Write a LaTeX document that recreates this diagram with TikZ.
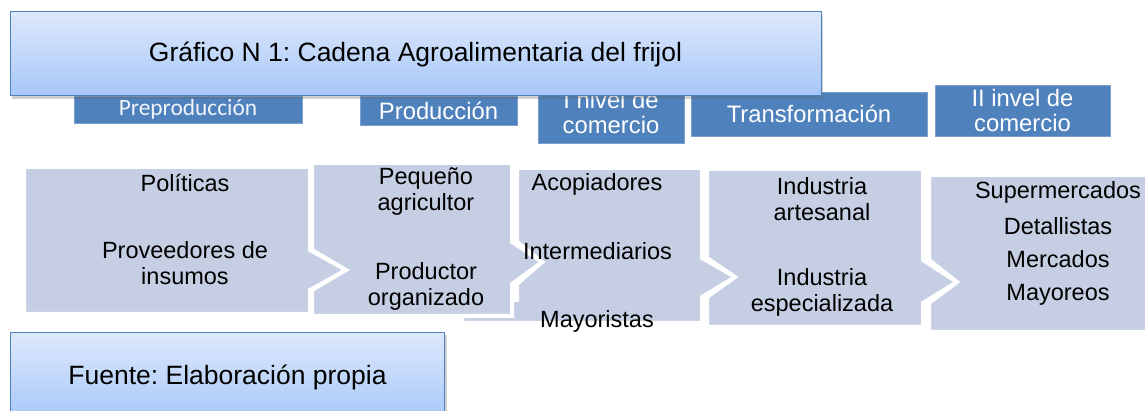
\documentclass[tikz,border=0pt]{standalone}
\usepackage{fontspec}
\setmainfont{Liberation Sans}
\newfontfamily\calfont{Carlito}
\usetikzlibrary{shadows}
\definecolor{hdrblue}{RGB}{79,129,189}
\definecolor{chev}{RGB}{197,206,226}
\definecolor{boxtop}{RGB}{221,233,252}
\definecolor{boxbot}{RGB}{166,198,248}
\definecolor{boxline}{RGB}{79,129,189}
\frenchspacing
\begin{document}
\begin{tikzpicture}[x=1pt,y=-1pt,
  body/.style={font=\fontsize{23.5}{26}\selectfont, align=center, inner sep=0pt, text=black},
  hdr/.style={fill=hdrblue, text=white, font=\fontsize{23.8}{25}\selectfont, align=center, inner sep=0pt, draw=hdrblue!75!white, line width=0.6pt},
  chevshape/.style={fill=chev, draw=white, line width=4pt, line join=miter},
  titlebox/.style={top color=boxtop, bottom color=boxbot, draw=boxline, line width=1pt, inner sep=0pt,
    font=\fontsize{26.5}{28}\selectfont,
    drop shadow={shadow xshift=2pt, shadow yshift=-3pt, opacity=0.3, fill=black!60}}
]
\useasboundingbox (0,0) rectangle (1145,411);

% chevron shapes
\path[chevshape] (517,168) -- (702,168) -- (702,258) -- (735,277) -- (702,297) -- (702,323) -- (462,323) -- (462,300) -- (517,300) -- (517,284) -- (542,262) -- (517,242) -- cycle;
\path[chevshape] (24,167) -- (310,167) -- (310,250) -- (346,270) -- (310,290) -- (310,314) -- (24,314) -- cycle;
\path[chevshape] (312,163) -- (512,163) -- (512,242) -- (542,262) -- (512,284) -- (512,316) -- (312,316) -- (312,290) -- (346,270) -- (312,250) -- cycle;
\path[chevshape] (707,169) -- (923,169) -- (923,260) -- (957,282) -- (923,303) -- (923,327) -- (707,327) -- (707,297) -- (735,277) -- (707,258) -- cycle;
\path[chevshape] (929,175) -- (1160,175) -- (1160,332) -- (929,332) -- (929,303) -- (957,282) -- (929,260) -- cycle;

% texts in chevrons
\node[body] (pol) at (185,183) {Políticas};
\node[body] (prov) at (185,263) {Proveedores de\\insumos};
\node[body] (peq) at (426,192) {Pequeño\\agricultor};
\node[body] (prodorg) at (426,286) {Productor\\organizado};
\node[body] (acop) at (597,184) {Acopiadores};
\node[body] (inter) at (597.5,251) {Intermediarios};
\node[body] (mayo) at (597,321) {Mayoristas};
\node[body] (indart) at (822,199) {Industria\\artesanal};
\node[body] (indesp) at (822,292) {Industria\\especializada};
\node[body] (super) at (1058,192) {Supermercados};
\node[body] (detal) at (1058,226) {Detallistas};
\node[body] (merc) at (1058,259) {Mercados};
\node[body] (mayor) at (1058,295) {Mayoreos};

% header boxes
\node[hdr, minimum width=228pt, minimum height=27pt, font=\calfont\fontsize{23.4}{25}\selectfont, text=white!92!hdrblue] (pre) at (188,109.5) {Preproducción};
\node[hdr, minimum width=157pt, minimum height=29pt] (prod) at (438.5,110.5) {Producción};
\node[hdr, minimum width=146pt, minimum height=61pt] (inivel) at (611,112.5) {I nivel de\\comercio};
\node[hdr, minimum width=236pt, minimum height=44pt] (trans) at (809,114) {Transformación};
\node[hdr, minimum width=175pt, minimum height=51pt] (iinivel) at (1022.5,110.5) {II invel de\\comercio};

% title and source boxes
\node[titlebox, minimum width=811pt, minimum height=84pt] (title) at (415.5,54) {Gráfico N 1: Cadena Agroalimentaria del frijol};
\node[titlebox, minimum width=434pt, minimum height=90pt, anchor=north west] (fuente) at (10,332) {Fuente: Elaboración propia};
\end{tikzpicture}
\end{document}
